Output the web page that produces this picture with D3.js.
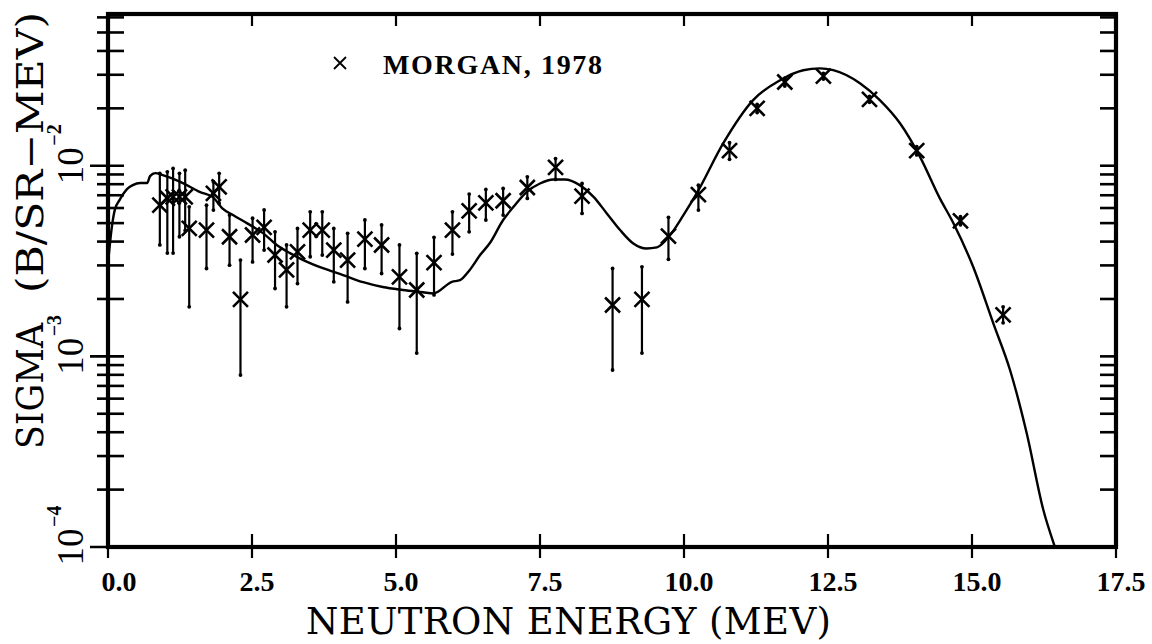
<!DOCTYPE html>
<html>
<head>
<meta charset="utf-8">
<script src="https://cdn.jsdelivr.net/npm/d3@7"></script>
<style>
  html, body { margin: 0; padding: 0; background: #ffffff; }
  svg { display: block; }
</style>
</head>
<body>
<svg id="chart" width="1152" height="644"></svg>
<script>
// Measured double-differential cross section (Morgan, 1978)
const energy    = [0.90, 1.03, 1.13, 1.24, 1.34, 1.41, 1.71, 1.83, 1.93, 2.11, 2.30, 2.51, 2.71, 2.90, 3.10, 3.29, 3.51, 3.72, 3.92, 4.16, 4.46, 4.75, 5.06, 5.36, 5.66, 5.98, 6.27, 6.56, 6.86, 7.28, 7.77, 8.23, 8.76, 9.27, 9.73, 10.25, 10.79, 11.27, 11.75, 12.42, 13.22, 14.04, 14.80, 15.54];
const sigma     = [6.21e-3, 6.75e-3, 6.87e-3, 6.87e-3, 6.87e-3, 4.69e-3, 4.59e-3, 7.16e-3, 7.75e-3, 4.24e-3, 1.99e-3, 4.33e-3, 4.75e-3, 3.40e-3, 2.84e-3, 3.53e-3, 4.59e-3, 4.59e-3, 3.61e-3, 3.20e-3, 4.12e-3, 3.84e-3, 2.61e-3, 2.23e-3, 3.10e-3, 4.59e-3, 5.80e-3, 6.39e-3, 6.55e-3, 7.69e-3, 9.80e-3, 6.93e-3, 1.86e-3, 1.99e-3, 4.27e-3, 7.05e-3, 1.20e-2, 2.00e-2, 2.75e-2, 2.95e-2, 2.23e-2, 1.20e-2, 5.14e-3, 1.65e-3];
const sigmaLow  = [3.84e-3, 3.48e-3, 3.48e-3, 4.24e-3, 4.58e-3, 1.82e-3, 2.89e-3, 5.85e-3, 6.34e-3, 3.01e-3, 7.98e-4, 3.13e-3, 3.61e-3, 2.27e-3, 1.82e-3, 2.41e-3, 3.33e-3, 3.40e-3, 2.46e-3, 1.93e-3, 2.89e-3, 2.72e-3, 1.40e-3, 1.04e-3, 2.10e-3, 3.44e-3, 4.50e-3, 5.19e-3, 5.51e-3, 6.74e-3, 8.47e-3, 5.62e-3, 8.48e-4, 1.04e-3, 3.23e-3, 5.85e-3, 1.08e-2, 1.90e-2, 2.62e-2, 2.85e-2, 2.15e-2, 1.14e-2, 4.90e-3, 1.50e-3];
const sigmaHigh = [9.12e-3, 9.29e-3, 9.68e-3, 9.12e-3, 9.48e-3, 6.09e-3, 6.21e-3, 8.24e-3, 9.12e-3, 5.51e-3, 3.20e-3, 5.31e-3, 5.86e-3, 4.50e-3, 3.84e-3, 4.69e-3, 5.73e-3, 5.73e-3, 4.69e-3, 4.42e-3, 5.19e-3, 4.89e-3, 3.84e-3, 3.47e-3, 4.21e-3, 5.73e-3, 7.10e-3, 7.51e-3, 7.60e-3, 8.75e-3, 1.09e-2, 8.07e-3, 2.89e-3, 2.95e-3, 5.36e-3, 7.91e-3, 1.32e-2, 2.10e-2, 2.88e-2, 3.05e-2, 2.31e-2, 1.26e-2, 5.40e-3, 1.82e-3];

// Calculated spectrum
const curveEnergy = [0.01, 0.06, 0.12, 0.20, 0.33, 0.43, 0.56, 0.68, 0.73, 0.82, 0.95, 1.30, 1.60, 1.82, 1.98, 2.17, 2.41, 2.69, 2.93, 3.16, 3.39, 3.73, 4.08, 4.43, 4.77, 5.12, 5.47, 5.65, 5.97, 6.11, 6.28, 6.46, 6.63, 6.86, 7.04, 7.27, 7.50, 7.73, 7.93, 8.19, 8.43, 8.66, 8.89, 9.12, 9.35, 9.53, 9.76, 9.99, 10.22, 10.68, 11.20, 11.67, 12.07, 12.36, 12.59, 13.06, 13.40, 13.75, 14.10, 14.44, 14.68, 15.02, 15.37, 15.66, 15.95, 16.24, 16.44, 16.52];
const curveSigma  = [3.3e-3, 4.6e-3, 5.9e-3, 6.6e-3, 7.54e-3, 7.91e-3, 8.11e-3, 8.11e-3, 8.82e-3, 9.15e-3, 8.93e-3, 8.11e-3, 7.27e-3, 6.84e-3, 6.00e-3, 5.51e-3, 5.00e-3, 4.43e-3, 3.84e-3, 3.48e-3, 3.20e-3, 2.90e-3, 2.67e-3, 2.45e-3, 2.31e-3, 2.23e-3, 2.17e-3, 2.14e-3, 2.46e-3, 2.51e-3, 2.84e-3, 3.40e-3, 3.93e-3, 5.19e-3, 6.09e-3, 7.30e-3, 8.07e-3, 8.47e-3, 8.47e-3, 7.91e-3, 6.87e-3, 5.62e-3, 4.60e-3, 3.91e-3, 3.68e-3, 3.73e-3, 4.33e-3, 5.51e-3, 7.16e-3, 1.31e-2, 2.21e-2, 2.81e-2, 3.17e-2, 3.24e-2, 3.17e-2, 2.70e-2, 2.21e-2, 1.67e-2, 1.11e-2, 6.76e-3, 4.98e-3, 2.95e-3, 1.49e-3, 8.48e-4, 3.95e-4, 1.56e-4, 1.0e-4, 8.5e-5];

// Axis ticks
const xTicks      = [0, 2.5, 5, 7.5, 10, 12.5, 15, 17.5];
const xTickLabels = ["0.0", "2.5", "5.0", "7.5", "10.0", "12.5", "15.0", "17.5"];
const decades         = [1e-4, 1e-3, 1e-2];
const decadeExponents = ["\u22124", "\u22123", "\u22122"];

const legendLabel = "MORGAN, 1978";
const xTitle = "NEUTRON ENERGY (MEV)";
const yTitleA = "SIGMA";
const yTitleB = "(B/SR\u2212MEV)";

(function draw() {
  const svg = d3.select("#chart");
  const pLeft = 108, pRight = 1116, pTop = 14, pBottom = 547;

  const x = d3.scaleLinear().domain([0, 17.5]).range([pLeft, pRight]);
  const y = d3.scaleLog().domain([1e-4, 0.0625]).range([pBottom, pTop]);

  const ink = "#000";

  // clip region for the curve
  svg.append("defs").append("clipPath").attr("id", "plotClip")
    .append("rect").attr("x", pLeft).attr("y", pTop).attr("width", pRight - pLeft).attr("height", pBottom - pTop);

  // minor and major log ticks
  const yTickVals = [];
  for (let e = -4; e <= -2; e++) {
    for (let m = 1; m <= 9; m++) {
      const v = m * Math.pow(10, e);
      if (v <= 0.0605) yTickVals.push(v);
    }
  }
  const isMajor = v => decades.some(d => Math.abs(v / d - 1) < 1e-6);

  // left ticks (crossing the axis)
  svg.append("g").selectAll("line").data(yTickVals).join("line")
    .attr("x1", d => pLeft - (isMajor(d) ? 18 : 11))
    .attr("x2", pLeft + 16)
    .attr("y1", d => y(d)).attr("y2", d => y(d))
    .attr("stroke", ink).attr("stroke-width", 2.6);

  // right ticks (inward)
  svg.append("g").selectAll("line").data(yTickVals).join("line")
    .attr("x1", pRight - 16).attr("x2", pRight)
    .attr("y1", d => y(d)).attr("y2", d => y(d))
    .attr("stroke", ink).attr("stroke-width", 2.6);

  // bottom ticks crossing the axis, top ticks inward
  svg.append("g").selectAll("line").data(xTicks).join("line")
    .attr("x1", d => x(d)).attr("x2", d => x(d))
    .attr("y1", pBottom - 13).attr("y2", pBottom + 11)
    .attr("stroke", ink).attr("stroke-width", 2.2);
  svg.append("g").selectAll("line").data(xTicks.slice(1, -1)).join("line")
    .attr("x1", d => x(d)).attr("x2", d => x(d))
    .attr("y1", pTop).attr("y2", pTop + 12)
    .attr("stroke", ink).attr("stroke-width", 2.2);

  // frame
  svg.append("rect")
    .attr("x", pLeft).attr("y", pTop).attr("width", pRight - pLeft).attr("height", pBottom - pTop)
    .attr("fill", "none").attr("stroke", ink).attr("stroke-width", 4.2);

  // x tick labels
  svg.append("g").selectAll("text").data(xTicks).join("text")
    .attr("x", (d, i) => x(d) + (i === 0 ? 11 : 5))
    .attr("y", 591)
    .attr("text-anchor", "middle")
    .attr("font-family", "'Liberation Serif', serif")
    .attr("font-weight", "bold")
    .attr("font-size", 28)
    .attr("fill", ink)
    .text((d, i) => xTickLabels[i]);

  // decade labels, rotated
  const dec = svg.append("g").selectAll("g").data(decades).join("g")
    .attr("transform", d => `translate(83,${y(d)}) rotate(-90)`);
  dec.append("text")
    .attr("x", 0).attr("y", 0)
    .attr("text-anchor", "middle")
    .attr("font-family", "'Liberation Serif', serif")
    .attr("font-size", 37)
    .attr("fill", ink)
    .text("10");
  dec.append("text")
    .attr("x", 20).attr("y", -22)
    .attr("text-anchor", "start")
    .attr("font-family", "'Liberation Serif', serif")
    .attr("font-weight", "bold")
    .attr("font-size", 20)
    .attr("fill", ink)
    .text((d, i) => decadeExponents[i]);

  // axis titles
  svg.append("text")
    .attr("x", 306).attr("y", 634)
    .attr("font-family", "'DejaVu Serif', serif")
    .attr("font-size", 37)
    .attr("textLength", 525).attr("lengthAdjust", "spacing")
    .attr("fill", ink)
    .text(xTitle);

  svg.append("text")
    .attr("transform", "translate(43,449) rotate(-90)")
    .attr("font-family", "'DejaVu Serif', serif")
    .attr("font-size", 37)
    .attr("textLength", 126).attr("lengthAdjust", "spacingAndGlyphs")
    .attr("fill", ink)
    .text(yTitleA);
  svg.append("text")
    .attr("transform", "translate(43,293) rotate(-90)")
    .attr("font-family", "'DejaVu Serif', serif")
    .attr("font-size", 37)
    .attr("textLength", 281).attr("lengthAdjust", "spacingAndGlyphs")
    .attr("fill", ink)
    .text(yTitleB);

  // calculated curve
  const curvePts = curveEnergy.map((e, i) => [e, curveSigma[i]]);
  svg.append("path")
    .datum(curvePts)
    .attr("clip-path", "url(#plotClip)")
    .attr("fill", "none")
    .attr("stroke", ink)
    .attr("stroke-width", 2.4)
    .attr("stroke-linejoin", "round")
    .attr("d", d3.line().x(d => x(d[0])).y(d => y(d[1])).curve(d3.curveMonotoneX));

  // error bars
  const pts = energy.map((e, i) => ({ e, s: sigma[i], lo: sigmaLow[i], hi: sigmaHigh[i] }));
  const eb = svg.append("g");
  eb.selectAll("line").data(pts).join("line")
    .attr("x1", d => x(d.e)).attr("x2", d => x(d.e))
    .attr("y1", d => y(d.lo)).attr("y2", d => y(d.hi))
    .attr("stroke", ink).attr("stroke-width", 2.2);
  eb.selectAll("circle.lo").data(pts).join("circle").attr("class", "lo")
    .attr("cx", d => x(d.e)).attr("cy", d => y(d.lo)).attr("r", 1.9).attr("fill", ink);
  eb.selectAll("circle.hi").data(pts).join("circle").attr("class", "hi")
    .attr("cx", d => x(d.e)).attr("cy", d => y(d.hi)).attr("r", 1.9).attr("fill", ink);

  // x markers
  const crossPath = (cx, cy, h) => `M${cx - h},${cy - h}L${cx + h},${cy + h}M${cx - h},${cy + h}L${cx + h},${cy - h}`;
  svg.append("g").selectAll("path").data(pts).join("path")
    .attr("d", d => crossPath(x(d.e), y(d.s), 7.5))
    .attr("stroke", ink).attr("stroke-width", 2.6).attr("fill", "none");

  // legend
  svg.append("path")
    .attr("d", crossPath(340, 63, 6))
    .attr("stroke", ink).attr("stroke-width", 1.8).attr("fill", "none");
  svg.append("text")
    .attr("x", 383).attr("y", 74)
    .attr("font-family", "'Liberation Serif', serif")
    .attr("font-weight", "bold")
    .attr("font-size", 28)
    .attr("textLength", 219).attr("lengthAdjust", "spacing")
    .attr("fill", ink)
    .text(legendLabel);
})();
</script>
</body>
</html>
